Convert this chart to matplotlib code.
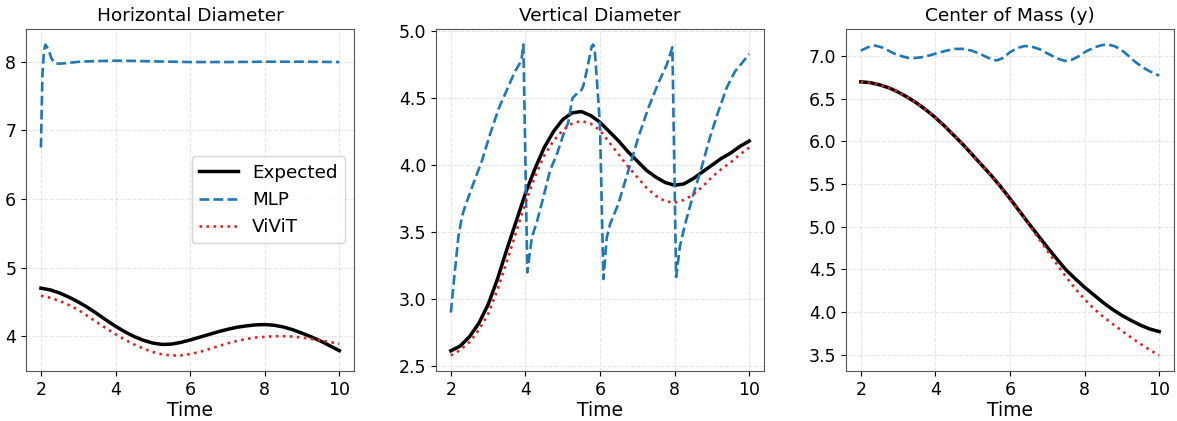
import matplotlib
matplotlib.use("Agg")
import matplotlib.pyplot as plt
import numpy as np

# ---------------- data ----------------
titles = ["Horizontal Diameter", "Vertical Diameter", "Center of Mass (y)"]
series_names = ["Expected", "MLP", "ViViT"]

t_grid = [2.0, 2.25, 2.5, 2.75, 3.0, 3.25, 3.5, 3.75, 4.0, 4.25, 4.5, 4.75,
          5.0, 5.25, 5.5, 5.75, 6.0, 6.25, 6.5, 6.75, 7.0, 7.25, 7.5, 7.75,
          8.0, 8.25, 8.5, 8.75, 9.0, 9.25, 9.5, 9.75, 10.0]

# Panel 1: Horizontal Diameter
hd_expected = [4.70, 4.675, 4.63, 4.57, 4.50, 4.42, 4.33, 4.235, 4.145, 4.065, 3.995, 3.94,
               3.90, 3.88, 3.885, 3.91, 3.945, 3.985, 4.025, 4.065, 4.10, 4.13, 4.15, 4.165,
               4.17, 4.16, 4.135, 4.095, 4.045, 3.99, 3.93, 3.86, 3.79]
hd_vivit = [4.59, 4.56, 4.515, 4.455, 4.385, 4.295, 4.205, 4.115, 4.03, 3.95, 3.88, 3.82,
            3.77, 3.735, 3.72, 3.72, 3.74, 3.77, 3.81, 3.855, 3.895, 3.93, 3.96, 3.98,
            3.99, 4.00, 4.00, 3.995, 3.98, 3.96, 3.94, 3.915, 3.89]
hd_mlp_t = [2.0, 2.02, 2.04, 2.08, 2.12, 2.2, 2.29, 2.4, 2.6, 3.04, 3.5, 4.03,
            4.5, 5.0, 6.0, 7.0, 8.0, 9.0, 10.0]
hd_mlp = [6.75, 7.3, 7.8, 8.15, 8.25, 8.18, 8.04, 7.97, 7.975, 8.0, 8.01, 8.015,
          8.012, 8.005, 7.995, 7.995, 8.0, 8.0, 7.995]

# Panel 2: Vertical Diameter
vd_expected = [2.615, 2.65, 2.72, 2.82, 2.96, 3.15, 3.37, 3.58, 3.79, 3.97, 4.13, 4.25,
               4.34, 4.39, 4.40, 4.37, 4.32, 4.25, 4.18, 4.10, 4.03, 3.96, 3.91, 3.87,
               3.85, 3.86, 3.90, 3.95, 4.00, 4.05, 4.09, 4.14, 4.18]
vd_vivit = [2.58, 2.62, 2.68, 2.77, 2.89, 3.07, 3.28, 3.50, 3.72, 3.91, 4.07, 4.18,
            4.26, 4.31, 4.33, 4.31, 4.26, 4.17, 4.08, 3.99, 3.91, 3.83, 3.77, 3.73,
            3.72, 3.74, 3.78, 3.84, 3.91, 3.97, 4.02, 4.08, 4.13]
vd_mlp_t = [2.0, 2.09, 2.2, 2.3, 2.38, 2.6, 2.83, 3.05, 3.28, 3.5, 3.72, 3.85, 3.9,
            3.945, 4.05, 4.17, 4.3, 4.48, 4.66, 4.84, 5.02, 5.15, 5.26, 5.4, 5.5,
            5.55, 5.64, 5.78, 5.82, 5.86, 5.95, 6.0, 6.09, 6.18, 6.27, 6.49, 6.76,
            7.03, 7.3, 7.56, 7.79, 7.94, 8.04, 8.14, 8.28, 8.5, 8.72, 8.95, 9.17,
            9.4, 9.62, 9.8, 10.0]
vd_mlp = [2.90, 3.16, 3.46, 3.62, 3.69, 3.86, 4.03, 4.23, 4.42, 4.56, 4.70, 4.76, 4.80,
          4.90, 3.20, 3.46, 3.57, 3.76, 3.96, 4.08, 4.23, 4.32, 4.50, 4.54, 4.56,
          4.59, 4.70, 4.89, 4.90, 4.85, 4.50, 4.28, 3.15, 3.46, 3.56, 3.71, 3.96,
          4.21, 4.43, 4.61, 4.75, 4.88, 3.165, 3.39, 3.56, 3.78, 3.98, 4.21, 4.40,
          4.58, 4.70, 4.76, 4.83]

# Panel 3: Center of Mass (y)
cm_expected = [6.70, 6.69, 6.665, 6.63, 6.58, 6.52, 6.45, 6.37, 6.28, 6.18, 6.07, 5.96,
               5.84, 5.72, 5.60, 5.47, 5.33, 5.185, 5.04, 4.90, 4.76, 4.625, 4.495, 4.39,
               4.29, 4.20, 4.11, 4.03, 3.96, 3.90, 3.845, 3.80, 3.77]
cm_vivit = [6.70, 6.69, 6.665, 6.63, 6.58, 6.52, 6.45, 6.37, 6.28, 6.18, 6.07, 5.96,
            5.84, 5.72, 5.60, 5.47, 5.32, 5.18, 5.03, 4.875, 4.72, 4.565, 4.415, 4.275,
            4.15, 4.04, 3.945, 3.86, 3.78, 3.70, 3.625, 3.555, 3.49]
cm_mlp_t = [2.0, 2.19, 2.38, 2.56, 2.74, 2.92, 3.1, 3.28, 3.46, 3.63, 3.86, 4.08,
            4.3, 4.53, 4.75, 4.97, 5.2, 5.42, 5.64, 5.82, 6.0, 6.21, 6.4, 6.58,
            6.8, 7.03, 7.25, 7.47, 7.65, 7.83, 8.05, 8.28, 8.46, 8.63, 8.81, 8.99,
            9.17, 9.35, 9.53, 9.71, 9.89, 10.0]
cm_mlp = [7.066, 7.105, 7.125, 7.105, 7.066, 7.027, 7.0, 6.98, 6.98, 6.988, 7.012, 7.04,
          7.066, 7.086, 7.086, 7.066, 7.027, 6.98, 6.95, 6.98, 7.047, 7.098, 7.12, 7.113,
          7.082, 7.027, 6.977, 6.945, 6.957, 6.996, 7.059, 7.106, 7.13, 7.137, 7.117, 7.074,
          7.008, 6.937, 6.879, 6.832, 6.793, 6.773]

panels = [
    (hd_expected, hd_mlp_t, hd_mlp, hd_vivit, [4, 5, 6, 7, 8]),
    (vd_expected, vd_mlp_t, vd_mlp, vd_vivit, [2.5, 3.0, 3.5, 4.0, 4.5, 5.0]),
    (cm_expected, cm_mlp_t, cm_mlp, cm_vivit, [3.5, 4.0, 4.5, 5.0, 5.5, 6.0, 6.5, 7.0]),
]
x_ticks = [2, 4, 6, 8, 10]

# ---------------- plot ----------------
fig, axes = plt.subplots(1, 3, figsize=(11.77, 4.21), dpi=100)
fig.subplots_adjust(left=0.0221, right=0.9975, bottom=0.1188, top=0.9311, wspace=0.249)

for ax, title, (exp, mt, mv, viv, yt) in zip(axes, titles, panels):
    ax.plot(t_grid, exp, color="black", lw=2.5, label=series_names[0])
    ax.plot(mt, mv, color="#1f77b4", lw=1.9, ls="--", label=series_names[1])
    ax.plot(t_grid, viv, color="#d62728", lw=1.9, ls=":", label=series_names[2])
    ax.set_title(title, fontsize=13.3)
    ax.set_xlabel("Time", fontsize=13.5, labelpad=2)
    ax.set_xticks(x_ticks)
    ax.set_yticks(yt)
    if yt[0] == 4:
        ax.set_yticklabels([str(v) for v in yt])
    else:
        ax.set_yticklabels([f"{v:.1f}" for v in yt])
    ax.tick_params(labelsize=12.5)
    ax.grid(True, ls="--", color="#cccccc", alpha=0.5, lw=0.8)
    for s in ax.spines.values():
        s.set_color("#555555")

axes[0].legend(loc="center right", fontsize=13.2, framealpha=0.8, handlelength=2.1)

fig.savefig("out.png", dpi=100)
